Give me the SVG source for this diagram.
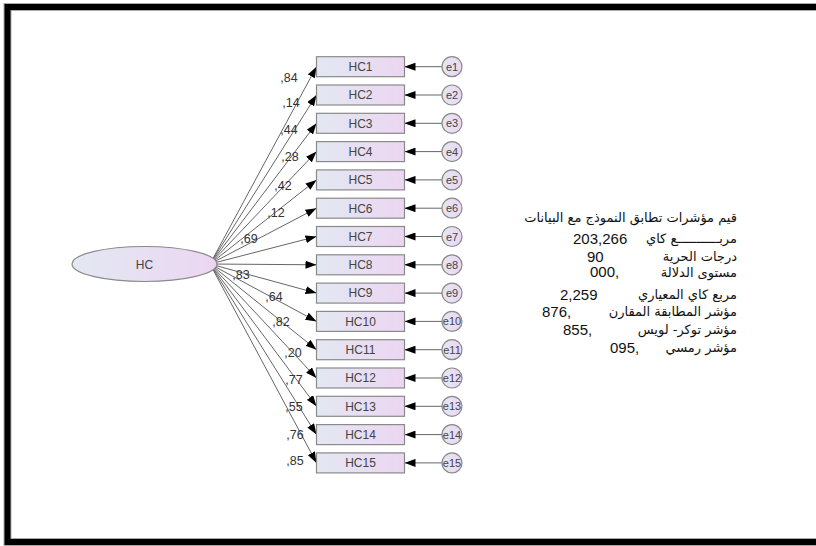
<svg xmlns="http://www.w3.org/2000/svg" width="816" height="546" viewBox="0 0 816 546">
<defs>
<linearGradient id="g" x1="0" y1="0" x2="1" y2="0">
<stop offset="0" stop-color="#e3e8f2"/>
<stop offset="1" stop-color="#ecd6f2"/>
</linearGradient>
<marker id="ah" markerUnits="userSpaceOnUse" markerWidth="11" markerHeight="8" refX="11" refY="4" orient="auto">
<path d="M0,0 L11,4 L0,8 z" fill="#000"/>
</marker>
<style>
.box{fill:url(#g);stroke:#8a8a8a;stroke-width:1.2}
.err{fill:url(#g);stroke:#8a8a8a;stroke-width:1.2}
.lt{font-family:"Liberation Sans",Arial,sans-serif;font-size:12px;fill:#444;text-anchor:middle}
.et{font-family:"Liberation Sans",Arial,sans-serif;font-size:11px;fill:#444;text-anchor:middle}
.wt{font-family:"Liberation Sans",Arial,sans-serif;font-size:12.5px;fill:#333;text-anchor:middle}
.cn line{stroke:#666;stroke-width:1;marker-end:url(#ah)}
.ar{font-family:"DejaVu Sans",sans-serif;font-size:13px;fill:#111;text-anchor:end}
.num{font-family:"Liberation Sans",Arial,sans-serif;font-size:15px;fill:#111}
</style>
</defs>
<rect x="0" y="0" width="816" height="546" fill="#fff"/>
<rect x="7.5" y="7" width="830" height="535" fill="none" stroke="#aaa" stroke-width="8"/>
<rect x="7.5" y="7" width="830" height="535" fill="none" stroke="#000" stroke-width="6"/>

<g id="connectors" class="cn">
<line x1="210" y1="264" x2="316.5" y2="66.7"/>
<line x1="210" y1="264" x2="316.5" y2="95.0"/>
<line x1="210" y1="264" x2="316.5" y2="123.3"/>
<line x1="210" y1="264" x2="316.5" y2="151.6"/>
<line x1="210" y1="264" x2="316.5" y2="179.9"/>
<line x1="210" y1="264" x2="316.5" y2="208.2"/>
<line x1="210" y1="264" x2="316.5" y2="236.5"/>
<line x1="210" y1="264" x2="316.5" y2="264.8"/>
<line x1="210" y1="264" x2="316.5" y2="293.1"/>
<line x1="210" y1="264" x2="316.5" y2="321.4"/>
<line x1="210" y1="264" x2="316.5" y2="349.7"/>
<line x1="210" y1="264" x2="316.5" y2="378.0"/>
<line x1="210" y1="264" x2="316.5" y2="406.3"/>
<line x1="210" y1="264" x2="316.5" y2="434.6"/>
<line x1="210" y1="264" x2="316.5" y2="462.9"/>
<line x1="442" y1="66.7" x2="404.5" y2="66.7"/>
<line x1="442" y1="95.0" x2="404.5" y2="95.0"/>
<line x1="442" y1="123.3" x2="404.5" y2="123.3"/>
<line x1="442" y1="151.6" x2="404.5" y2="151.6"/>
<line x1="442" y1="179.9" x2="404.5" y2="179.9"/>
<line x1="442" y1="208.2" x2="404.5" y2="208.2"/>
<line x1="442" y1="236.5" x2="404.5" y2="236.5"/>
<line x1="442" y1="264.8" x2="404.5" y2="264.8"/>
<line x1="442" y1="293.1" x2="404.5" y2="293.1"/>
<line x1="442" y1="321.4" x2="404.5" y2="321.4"/>
<line x1="442" y1="349.7" x2="404.5" y2="349.7"/>
<line x1="442" y1="378.0" x2="404.5" y2="378.0"/>
<line x1="442" y1="406.3" x2="404.5" y2="406.3"/>
<line x1="442" y1="434.6" x2="404.5" y2="434.6"/>
<line x1="442" y1="462.9" x2="404.5" y2="462.9"/>
</g>

<g id="weights" class="wt">
<text x="289" y="82">,84</text>
<text x="291" y="107">,14</text>
<text x="289" y="134">,44</text>
<text x="290" y="161">,28</text>
<text x="283" y="190">,42</text>
<text x="276" y="217">,12</text>
<text x="249" y="243">,69</text>
<text x="241" y="279">,83</text>
<text x="274" y="301">,64</text>
<text x="281" y="326">,82</text>
<text x="293" y="357">,20</text>
<text x="294" y="384">,77</text>
<text x="294" y="411">,55</text>
<text x="295" y="439">,76</text>
<text x="295" y="465">,85</text>
</g>

<g id="HC"><ellipse cx="144.5" cy="264" rx="72.5" ry="17.5" class="box"/><text class="lt" x="144.5" y="268.5">HC</text></g>

<g id="HC1"><rect class="box" x="316.5" y="56.7" width="88" height="20"/><text class="lt" x="360.5" y="71">HC1</text></g>
<g id="HC2"><rect class="box" x="316.5" y="85.0" width="88" height="20"/><text class="lt" x="360.5" y="99.3">HC2</text></g>
<g id="HC3"><rect class="box" x="316.5" y="113.3" width="88" height="20"/><text class="lt" x="360.5" y="127.6">HC3</text></g>
<g id="HC4"><rect class="box" x="316.5" y="141.6" width="88" height="20"/><text class="lt" x="360.5" y="155.9">HC4</text></g>
<g id="HC5"><rect class="box" x="316.5" y="169.9" width="88" height="20"/><text class="lt" x="360.5" y="184.2">HC5</text></g>
<g id="HC6"><rect class="box" x="316.5" y="198.2" width="88" height="20"/><text class="lt" x="360.5" y="212.5">HC6</text></g>
<g id="HC7"><rect class="box" x="316.5" y="226.5" width="88" height="20"/><text class="lt" x="360.5" y="240.8">HC7</text></g>
<g id="HC8"><rect class="box" x="316.5" y="254.8" width="88" height="20"/><text class="lt" x="360.5" y="269.1">HC8</text></g>
<g id="HC9"><rect class="box" x="316.5" y="283.1" width="88" height="20"/><text class="lt" x="360.5" y="297.4">HC9</text></g>
<g id="HC10"><rect class="box" x="316.5" y="311.4" width="88" height="20"/><text class="lt" x="360.5" y="325.7">HC10</text></g>
<g id="HC11"><rect class="box" x="316.5" y="339.7" width="88" height="20"/><text class="lt" x="360.5" y="354">HC11</text></g>
<g id="HC12"><rect class="box" x="316.5" y="368.0" width="88" height="20"/><text class="lt" x="360.5" y="382.3">HC12</text></g>
<g id="HC13"><rect class="box" x="316.5" y="396.3" width="88" height="20"/><text class="lt" x="360.5" y="410.6">HC13</text></g>
<g id="HC14"><rect class="box" x="316.5" y="424.6" width="88" height="20"/><text class="lt" x="360.5" y="438.9">HC14</text></g>
<g id="HC15"><rect class="box" x="316.5" y="452.9" width="88" height="20"/><text class="lt" x="360.5" y="467.2">HC15</text></g>

<g id="e1"><circle class="err" cx="452" cy="66.7" r="10"/><text class="et" x="452" y="70.7">e1</text></g>
<g id="e2"><circle class="err" cx="452" cy="95.0" r="10"/><text class="et" x="452" y="99">e2</text></g>
<g id="e3"><circle class="err" cx="452" cy="123.3" r="10"/><text class="et" x="452" y="127.3">e3</text></g>
<g id="e4"><circle class="err" cx="452" cy="151.6" r="10"/><text class="et" x="452" y="155.6">e4</text></g>
<g id="e5"><circle class="err" cx="452" cy="179.9" r="10"/><text class="et" x="452" y="183.9">e5</text></g>
<g id="e6"><circle class="err" cx="452" cy="208.2" r="10"/><text class="et" x="452" y="212.2">e6</text></g>
<g id="e7"><circle class="err" cx="452" cy="236.5" r="10"/><text class="et" x="452" y="240.5">e7</text></g>
<g id="e8"><circle class="err" cx="452" cy="264.8" r="10"/><text class="et" x="452" y="268.8">e8</text></g>
<g id="e9"><circle class="err" cx="452" cy="293.1" r="10"/><text class="et" x="452" y="297.1">e9</text></g>
<g id="e10"><circle class="err" cx="452" cy="321.4" r="10"/><text class="et" x="452" y="325.4">e10</text></g>
<g id="e11"><circle class="err" cx="452" cy="349.7" r="10"/><text class="et" x="452" y="353.7">e11</text></g>
<g id="e12"><circle class="err" cx="452" cy="378.0" r="10"/><text class="et" x="452" y="382">e12</text></g>
<g id="e13"><circle class="err" cx="452" cy="406.3" r="10"/><text class="et" x="452" y="410.3">e13</text></g>
<g id="e14"><circle class="err" cx="452" cy="434.6" r="10"/><text class="et" x="452" y="438.6">e14</text></g>
<g id="e15"><circle class="err" cx="452" cy="462.9" r="10"/><text class="et" x="452" y="466.9">e15</text></g>

<g id="fit-indices">
<text class="ar" x="737" y="222">قيم مؤشرات تطابق النموذج مع البيانات</text>
<text class="ar" x="737" y="243">مربـــــــــــع كاي</text>
<text class="num" x="573" y="244">203,266</text>
<text class="ar" x="737" y="261">درجات الحرية</text>
<text class="num" x="587" y="262">90</text>
<text class="ar" x="737" y="277">مستوى الدلالة</text>
<text class="num" x="590" y="277">000,</text>
<text class="ar" x="737" y="299">مربع كاي المعياري</text>
<text class="num" x="560" y="300">2,259</text>
<text class="ar" x="737" y="316">مؤشر المطابقة المقارن</text>
<text class="num" x="542" y="317">876,</text>
<text class="ar" x="737" y="334">مؤشر توكر- لويس</text>
<text class="num" x="563" y="335">855,</text>
<text class="ar" x="737" y="352">مؤشر رمسي</text>
<text class="num" x="610" y="353">095,</text>
</g>
</svg>
